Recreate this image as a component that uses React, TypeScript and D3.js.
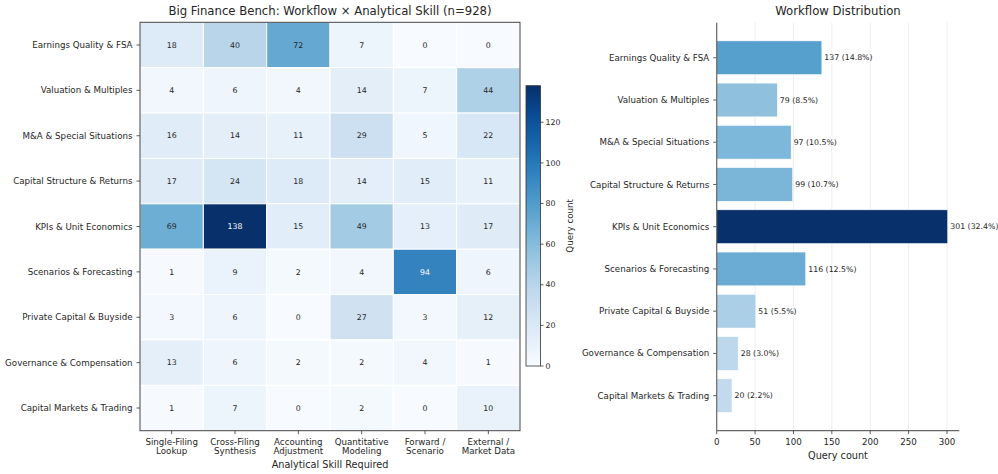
import React from "react";
import * as d3 from "d3";

const workflows = [
  "Earnings Quality & FSA",
  "Valuation & Multiples",
  "M&A & Special Situations",
  "Capital Structure & Returns",
  "KPIs & Unit Economics",
  "Scenarios & Forecasting",
  "Private Capital & Buyside",
  "Governance & Compensation",
  "Capital Markets & Trading",
];
const skills = [
  ["Single-Filing", "Lookup"],
  ["Cross-Filing", "Synthesis"],
  ["Accounting", "Adjustment"],
  ["Quantitative", "Modeling"],
  ["Forward /", "Scenario"],
  ["External /", "Market Data"],
];
const matrix = [
  [18, 40, 72, 7, 0, 0],
  [4, 6, 4, 14, 7, 44],
  [16, 14, 11, 29, 5, 22],
  [17, 24, 18, 14, 15, 11],
  [69, 138, 15, 49, 13, 17],
  [1, 9, 2, 4, 94, 6],
  [3, 6, 0, 27, 3, 12],
  [13, 6, 2, 2, 4, 1],
  [1, 7, 0, 2, 0, 10],
];
const workflowTotals = [137, 79, 97, 99, 301, 116, 51, 28, 20];
const totalN = 928;
const cbTicks = [0, 20, 40, 60, 80, 100, 120];
const barTicks = [0, 50, 100, 150, 200, 250, 300];

const FONT = "DejaVu Sans, sans-serif";
const TXT = "#262626";
const F_TITLE = 11.7;
const F_TICK = 8.7;
const F_LABEL = 9.7;
const F_SMALL = 7.8;

export default function App() {
  // heatmap geometry
  const hx0 = 140, hx1 = 520, hy0 = 22.3, hy1 = 430.7;
  const vmax = d3.max(matrix.flat()) as number;
  const xh = d3.scaleBand<number>().domain(d3.range(skills.length)).range([hx0, hx1]);
  const yh = d3.scaleBand<number>().domain(d3.range(workflows.length)).range([hy0, hy1]);
  const color = d3.scaleSequential(d3.interpolateBlues).domain([0, vmax]);

  // colorbar
  const cbx = 526, cbw = 14.5, cby0 = 85.7, cby1 = 366;
  const ycb = d3.scaleLinear().domain([0, vmax]).range([cby1, cby0]);
  const cbStops = d3.range(0, 1.0001, 0.05);

  // bar chart
  const bx0 = 716.7, bx1 = 959.3, by0 = 22.7, by1 = 430.7;
  const maxTot = d3.max(workflowTotals) as number;
  const xb = d3.scaleLinear().domain([0, maxTot * 1.05]).range([bx0, bx1]);
  const yb = d3.scaleLinear().domain([-0.83, workflows.length - 1 + 0.83]).range([by0, by1]);
  const bh = (yb(1) - yb(0)) * 0.8;

  return (
    <svg
      width={998}
      height={474}
      style={{ position: "absolute", left: 0, top: 0, background: "#fff" }}
      fontFamily={FONT}
    >
      <defs>
        <linearGradient id="cbgrad" x1="0" y1="1" x2="0" y2="0">
          {cbStops.map((t) => (
            <stop key={t} offset={t} stopColor={d3.interpolateBlues(t)} />
          ))}
        </linearGradient>
      </defs>
      <rect width={998} height={474} fill="#fff" />

      {/* Heatmap title */}
      <text x={(hx0 + hx1) / 2} y={15} textAnchor="middle" fontSize={F_TITLE} fill={TXT}>
        Big Finance Bench: Workflow × Analytical Skill (n={totalN})
      </text>

      {/* cells */}
      {matrix.map((row, i) =>
        row.map((v, j) => (
          <g key={`${i}-${j}`}>
            <rect
              x={xh(j)}
              y={yh(i)}
              width={xh.bandwidth()}
              height={yh.bandwidth()}
              fill={color(v)}
              stroke="#fff"
              strokeWidth={1}
            />
            <text
              x={(xh(j) as number) + xh.bandwidth() / 2}
              y={(yh(i) as number) + yh.bandwidth() / 2}
              dy="0.35em"
              textAnchor="middle"
              fontSize={F_SMALL}
              fill={v > vmax * 0.6 ? "#fff" : TXT}
            >
              {v}
            </text>
          </g>
        ))
      )}
      <rect x={hx0} y={hy0} width={hx1 - hx0} height={hy1 - hy0} fill="none" stroke="#444" strokeWidth={1} />

      {/* heatmap y ticks */}
      {workflows.map((w, i) => {
        const y = (yh(i) as number) + yh.bandwidth() / 2;
        return (
          <g key={w}>
            <line x1={hx0 - 3.5} x2={hx0} y1={y} y2={y} stroke="#333" strokeWidth={0.8} />
            <text x={hx0 - 7.5} y={y} dy="0.35em" textAnchor="end" fontSize={F_TICK} fill={TXT}>
              {w}
            </text>
          </g>
        );
      })}
      {/* heatmap x ticks */}
      {skills.map((s, j) => {
        const x = (xh(j) as number) + xh.bandwidth() / 2;
        return (
          <g key={j}>
            <line x1={x} x2={x} y1={hy1} y2={hy1 + 3.5} stroke="#333" strokeWidth={0.8} />
            <text x={x} y={444.8} textAnchor="middle" fontSize={F_TICK} fill={TXT}>
              {s[0]}
            </text>
            <text x={x} y={454.2} textAnchor="middle" fontSize={F_TICK} fill={TXT}>
              {s[1]}
            </text>
          </g>
        );
      })}
      <text x={(hx0 + hx1) / 2} y={467.5} textAnchor="middle" fontSize={F_LABEL} fill={TXT}>
        Analytical Skill Required
      </text>

      {/* colorbar */}
      <rect x={cbx} y={cby0} width={cbw} height={cby1 - cby0} fill="url(#cbgrad)" stroke="#333" strokeWidth={0.8} />
      {cbTicks.map((t) => (
        <g key={t}>
          <line x1={cbx + cbw} x2={cbx + cbw + 3} y1={ycb(t)} y2={ycb(t)} stroke="#333" strokeWidth={0.8} />
          <text x={cbx + cbw + 5} y={ycb(t)} dy="0.35em" fontSize={F_SMALL} fill={TXT}>
            {t}
          </text>
        </g>
      ))}
      <text
        transform={`translate(${573},${(cby0 + cby1) / 2}) rotate(-90)`}
        textAnchor="middle"
        fontSize={F_TICK}
        fill={TXT}
      >
        Query count
      </text>

      {/* Bar chart */}
      <text x={(bx0 + bx1) / 2} y={15} textAnchor="middle" fontSize={F_TITLE} fill={TXT}>
        Workflow Distribution
      </text>
      {barTicks.map((t) => (
        <line key={t} x1={xb(t)} x2={xb(t)} y1={by0} y2={by1} stroke="#e8e8e8" strokeWidth={0.8} />
      ))}
      {workflowTotals.map((v, i) => {
        const yc = yb(i);
        return (
          <g key={i}>
            <rect
              x={xb(0)}
              y={yc - bh / 2}
              width={xb(v) - xb(0)}
              height={bh}
              fill={d3.interpolateBlues(0.2 + 0.8 * (v / maxTot))}
              stroke="#fff"
              strokeWidth={0.6}
            />
            <text x={xb(v) + 2.5} y={yc} dy="0.35em" fontSize={F_SMALL} fill={TXT}>
              {`${v} (${((v / totalN) * 100).toFixed(1)}%)`}
            </text>
            <line x1={bx0 - 3.5} x2={bx0} y1={yc} y2={yc} stroke="#333" strokeWidth={0.8} />
            <text x={bx0 - 7.4} y={yc} dy="0.35em" textAnchor="end" fontSize={F_TICK} fill={TXT}>
              {workflows[i]}
            </text>
          </g>
        );
      })}
      <line x1={bx0} x2={bx0} y1={by0} y2={by1} stroke="#666" strokeWidth={1.2} />
      <line x1={bx0} x2={bx1} y1={by1} y2={by1} stroke="#666" strokeWidth={1.2} />
      {barTicks.map((t) => (
        <g key={t}>
          <line x1={xb(t)} x2={xb(t)} y1={by1} y2={by1 + 3.5} stroke="#333" strokeWidth={0.8} />
          <text x={xb(t)} y={by1 + 14.5} textAnchor="middle" fontSize={F_TICK} fill={TXT}>
            {t}
          </text>
        </g>
      ))}
      <text x={(bx0 + bx1) / 2} y={458.5} textAnchor="middle" fontSize={F_LABEL} fill={TXT}>
        Query count
      </text>
    </svg>
  );
}
